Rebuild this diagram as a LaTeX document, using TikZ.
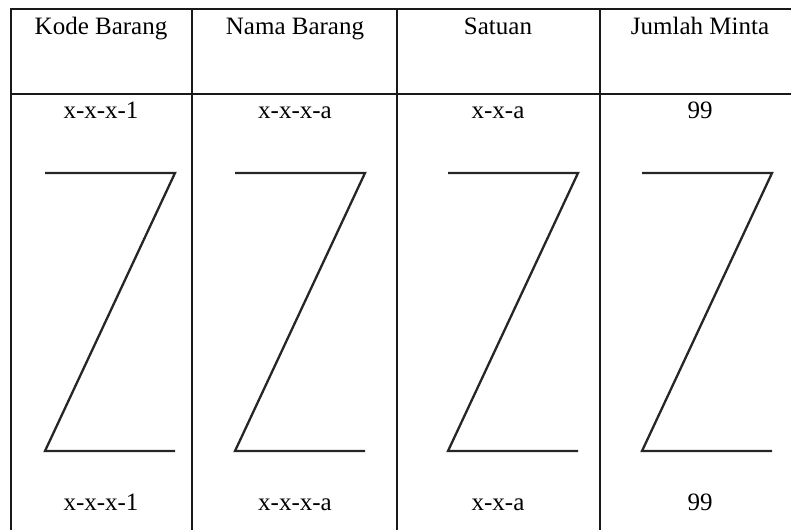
\documentclass[tikz,border=0pt]{standalone}
\usepackage{fontspec}
\setmainfont{Liberation Serif}
\usetikzlibrary{positioning}

\begin{document}
\begin{tikzpicture}
		[x=1pt, y=-1pt,
		rule/.style = {line width=2.5pt, black!90},
		zline/.style = {line width=2.3pt, black!85, line join=miter},
		cell/.style = {anchor=base, inner sep=0pt, font=\fontsize{25}{30}\selectfont}]
		\useasboundingbox (0,0) rectangle (791,530);
		% table frame
		\draw[rule] (11,530) -- (11,9) -- (791,9);
		\draw[rule] (11,94) -- (791,94);
		\foreach \x in {192,397,600}
			\draw[rule] (\x,9) -- (\x,530);
		% columns: centre / Z left / Z right / header / value
		\foreach \c/\zl/\zr/\head/\val [count=\i] in
			{101/45/175/Kode Barang/x-x-x-1,
			 295/235/365/Nama Barang/x-x-x-a,
			 498/448/578/Satuan/x-x-a,
			 700/642/772/Jumlah Minta/99}
		{
			\node[cell] (head\i) at (\c,34) {\head};
			\node[cell] (first\i) at (\c,118) {\val};
			\node[cell] (last\i) at (\c,510) {\val};
			\draw[zline] (\zl,173) -- (\zr,173) -- (\zl,451) -- (\zr,451);
		}
	\end{tikzpicture}
\end{document}
